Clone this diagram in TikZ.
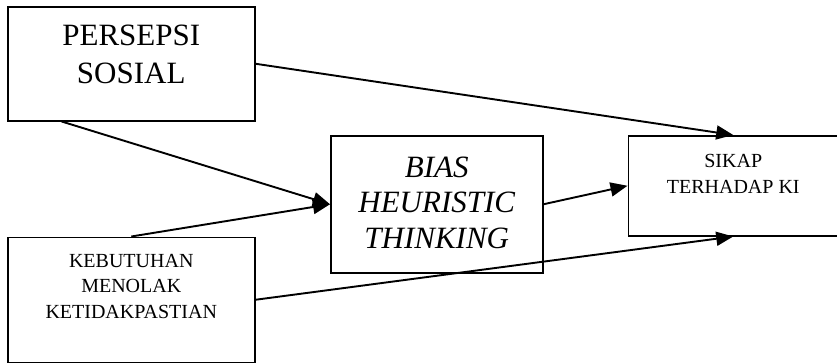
\documentclass[tikz,border=0pt]{standalone}
\usepackage{fontspec}
\setmainfont{Liberation Serif}
\usetikzlibrary{arrows.meta, calc, positioning}
\tikzstyle{block} = [rectangle, draw=black, line width=1.5pt, inner sep=0pt]
\tikzstyle{arrow} = [line width=1.9pt, -{Triangle[length=17pt,width=14pt]}]
\newcommand{\blocktext}[4]{\parbox[c][#2][t]{#1}{\centering\vspace*{#3}#4}}

\begin{document}
\begin{tikzpicture}[x=1pt, y=-1pt]
	\useasboundingbox (0,0) rectangle (837,362);
	\node (Persepsi) [block, anchor=north west] at (7,6) {\blocktext{247pt}{114pt}{18.5pt}{\fontsize{31}{38}\selectfont PERSEPSI\\SOSIAL}};
	\node (Kebutuhan) [block, below = 115pt of Persepsi.south west, anchor=north west] {\blocktext{247pt}{125pt}{17pt}{\fontsize{20}{25.5}\selectfont KEBUTUHAN\\MENOLAK\\KETIDAKPASTIAN}};
	\node (Bias) [block, anchor=north west] at (330,135) {\blocktext{212pt}{137pt}{21pt}{\fontsize{31}{35.5}\selectfont\itshape BIAS\\HEURISTIC\\THINKING}};
	\node (Sikap) [block, right = 84pt of Bias.north east, anchor=north west] {\blocktext{210pt}{100pt}{19pt}{\fontsize{20}{26}\selectfont SIKAP\\TERHADAP KI}};
	\draw [arrow] (Persepsi.east) -- (Sikap.north);
	\draw [arrow] ($(Persepsi.south west)!0.22!(Persepsi.south east)$) -- (Bias.west);
	\draw [arrow] (Kebutuhan.north) -- (Bias.west);
	\draw [arrow] (Bias.east) -- (Sikap.west);
	\draw [arrow] (Kebutuhan.east) -- (Sikap.south);
\end{tikzpicture}
\end{document}
